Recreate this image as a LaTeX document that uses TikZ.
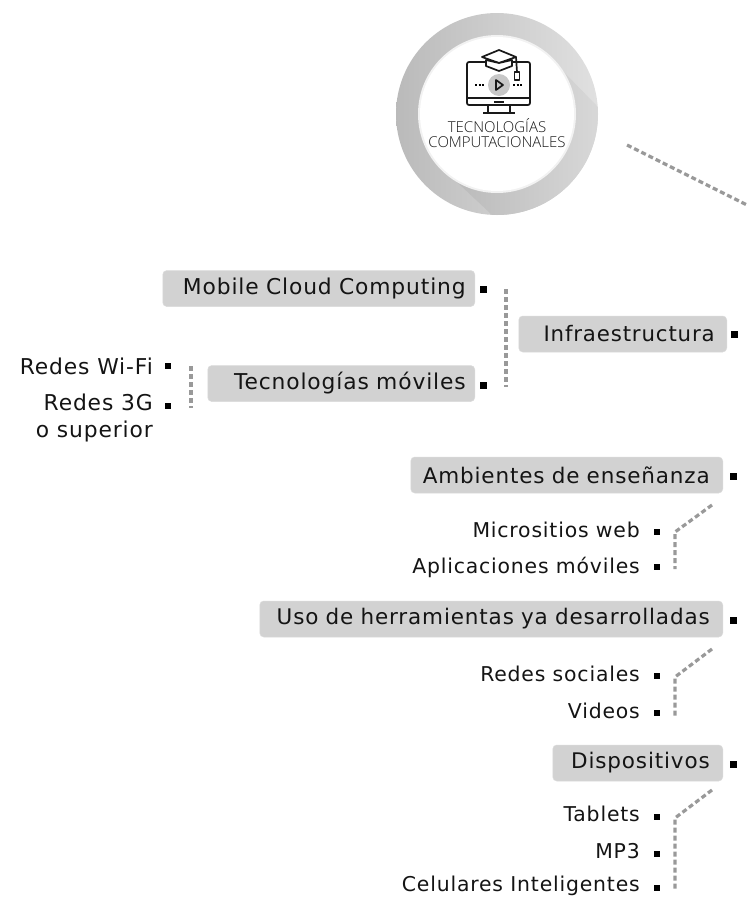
\documentclass[tikz,border=0pt]{standalone}
\usepackage{fontspec}
\setmainfont{DejaVu Sans}[LetterSpace=4]
\newfontfamily\titlefont{Open Sans Light}
\usetikzlibrary{calc}
\definecolor{boxgray}{HTML}{D2D2D2}
\definecolor{ink}{HTML}{141414}
\definecolor{dotgray}{HTML}{999999}
\tikzset{
  x=1pt,y=-1pt,
  boxn/.style={fill=boxgray,draw=boxgray!80!white,line width=.5pt,rounded corners=4pt,anchor=east,align=right,minimum height=36pt,inner ysep=0pt,text=ink},
  upbox/.style={boxn,inner xsep=9pt,font=\fontsize{21.8}{26}\selectfont},
  lowbox/.style={boxn,inner xsep=13pt,font=\fontsize{21.5}{24}\selectfont},
  upleaf/.style={anchor=east,align=right,inner sep=0pt,text=ink,font=\fontsize{21.8}{27}\selectfont},
  leaf/.style={anchor=east,align=right,inner sep=0pt,text=ink,font=\fontsize{20.4}{24}\selectfont},
  bigb/.style={fill=black,inner sep=0pt,minimum size=7pt,rectangle},
  smallb/.style={fill=black,inner sep=0pt,minimum size=5.5pt,rectangle},
  dotl/.style={draw=dotgray,line width=3.2pt,dash pattern=on 5pt off 3pt},
  iconl/.style={draw=black!90,line width=1.7pt,line join=round},
}
\begin{document}
\begin{tikzpicture}
\useasboundingbox (0,0) rectangle (750,897);
% ring
\coordinate (c) at (497,114);
\begin{scope}
  \clip (c) circle (101);
  \shade[shading=axis,shading angle=70,left color=black!27,right color=black!12] (396,13) rectangle (598,215);
  \shade[shading=axis,shading angle=135,left color=black!28,right color=black!12] (442,168) -- (552,60) -- (640,150) -- (540,260) -- cycle;
\end{scope}
\fill[black!5] (c) circle (79);
\fill[white] (c) circle (77);
% icon
\fill[black!22] (499,85) circle (11);
\draw[iconl,rounded corners=2pt] (467,62) rectangle (530,105);
\draw[iconl] (467,98) -- (530,98);
\draw[iconl] (494,102) -- (504,102);
\draw[iconl] (488,105) -- (488,113) (510,105) -- (510,113) (483,113) -- (515,113);
\draw[iconl,fill=white] (482,57) -- (499,50) -- (516,57) -- (499,63) -- cycle;
\draw[iconl,fill=white] (486,60) -- (486,66) -- (499,71) -- (512,66) -- (512,60) -- (499,63) -- cycle;
\draw[iconl] (516,57) -- (517,72);
\draw[iconl,fill=white] (514.5,72) rectangle (519.5,80);
\draw[iconl] (496,80) -- (496,90) -- (503,85) -- cycle;
\draw[black,line width=2pt,dash pattern=on 2pt off 1.6pt] (475,85) -- (485,85) (513,85) -- (523,85);
\node[font=\titlefont\fontsize{15}{15.2}\selectfont,align=center,text=black!90,inner sep=0pt] (title) at (497,133) {TECNOLOGÍAS\\COMPUTACIONALES};
% top connector
\coordinate (t1) at (627,145); \coordinate (t2) at (747,205);
\draw[dotl] (t1) -- (t2);
% infraestructura group
\node[upbox,minimum width=312pt,text width=294pt] (mcc) at (475,288.5) {Mobile Cloud Computing};
\node[upbox,inner xsep=12pt,minimum width=208pt,text width=184pt,font=\fontsize{21.3}{26}\selectfont] (inf) at (727,334) {Infraestructura};
\node[upbox,minimum width=267pt,text width=249pt] (tec) at (475,383.5) {Tecnologías móviles};
\node[bigb] (bmcc) at (483,289) {};
\node[bigb] (binf) at (734,334) {};
\node[bigb] (btec) at (483,385) {};
\node[upleaf] (wifi) at (153,366) {Redes Wi-Fi};
\node[smallb] (bwifi) at (168,366) {};
\node[upleaf,anchor=north east] (g3) at (153,394) {Redes 3G\\o superior};
\node[smallb] (bg3) at (168,406) {};
\coordinate (d1a) at (506,289); \coordinate (d1b) at (506,387);
\draw[dotl] (d1a) -- (d1b);
\coordinate (d2a) at (191,366); \coordinate (d2b) at (191,408);
\draw[dotl] (d2a) -- (d2b);
% ambientes
\node[lowbox,minimum width=312pt,text width=286pt] (amb) at (723,475) {\makebox[286pt][r]{Ambientes de enseñanza}};
\node[bigb] (bamb) at (733,476) {};
\node[leaf] (mic) at (640,530) {Micrositios web};
\node[smallb] (bmic) at (657,532) {};
\node[leaf] (apl) at (640,567) {Aplicaciones móviles};
\node[smallb] (bapl) at (657,567) {};
\coordinate (a1) at (712,505); \coordinate (a2) at (675,532); \coordinate (a3) at (675,569);
\draw[dotl] (a1) -- (a2) -- (a3);
% uso
\node[lowbox,minimum width=463pt,text width=437pt] (uso) at (723,619) {Uso de herramientas ya desarrolladas};
\node[bigb] (buso) at (733,620) {};
\node[leaf] (red) at (640,674) {Redes sociales};
\node[smallb] (bred) at (657,676) {};
\node[leaf] (vid) at (640,711) {Videos};
\node[smallb] (bvid) at (657,713) {};
\coordinate (u1) at (712,649); \coordinate (u2) at (675,677); \coordinate (u3) at (675,716);
\draw[dotl] (u1) -- (u2) -- (u3);
% dispositivos
\node[lowbox,minimum width=170pt,text width=144pt] (dis) at (723,763) {Dispositivos};
\node[bigb] (bdis) at (733,764) {};
\node[leaf] (tab) at (640,814) {Tablets};
\node[smallb] (btab) at (657,817) {};
\node[leaf] (mp3) at (640,851) {MP3};
\node[smallb] (bmp3) at (657,854) {};
\node[leaf] (cel) at (640,886) {Celulares Inteligentes};
\node[smallb] (bcel) at (657,888) {};
\coordinate (e1) at (712,790); \coordinate (e2) at (675,818); \coordinate (e3) at (675,889);
\draw[dotl] (e1) -- (e2) -- (e3);
\end{tikzpicture}
\end{document}
